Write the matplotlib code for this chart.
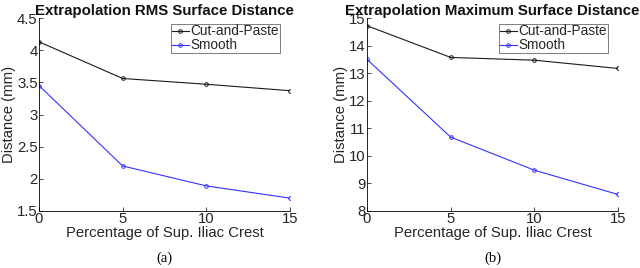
import matplotlib
matplotlib.use("Agg")
import matplotlib.pyplot as plt

x = [0, 5, 10, 15]
rms_cut = [4.13, 3.56, 3.47, 3.37]
rms_smooth = [3.45, 2.20, 1.89, 1.70]
max_cut = [14.72, 13.57, 13.47, 13.17]
max_smooth = [13.50, 10.68, 9.48, 8.60]

titles = ["Extrapolation RMS Surface Distance", "Extrapolation Maximum Surface Distance"]
xlabel = "Percentage of Sup. Iliac Crest"
ylabel = "Distance (mm)"
sublabels = ["(a)", "(b)"]
ylims = [(1.5, 4.5), (8, 15)]
yticks = [[1.5, 2, 2.5, 3, 3.5, 4, 4.5], [8, 9, 10, 11, 12, 13, 14, 15]]
ytlabels = [["1.5", "2", "2.5", "3", "3.5", "4", "4.5"], ["8", "9", "10", "11", "12", "13", "14", "15"]]

plt.rcParams['font.family'] = ['Liberation Sans', 'DejaVu Sans']
fig = plt.figure(figsize=(6.4, 2.68), dpi=100)
W, H = 640, 268
axes_px = [(39, 18, 290, 211), (367, 18, 618, 211)]
data = [(rms_cut, rms_smooth), (max_cut, max_smooth)]
tc = '#262626'

for i in range(2):
    l, t, r, b = axes_px[i]
    ax = fig.add_axes([l / W, 1 - b / H, (r - l) / W, (b - t) / H])
    cut, smooth = data[i]
    ax.plot(x, cut, color='#1a1a1a', lw=0.8, marker='o', ms=2.6, mfc='none', mew=0.7, label='Cut-and-Paste')
    ax.plot(x, smooth, color='#3333ff', lw=0.8, marker='o', ms=2.6, mfc='none', mew=0.7, label='Smooth')
    ax.set_xlim(0, 15)
    ax.set_ylim(*ylims[i])
    ax.set_xticks([0, 5, 10, 15])
    ax.set_yticks(yticks[i])
    ax.set_yticklabels(ytlabels[i])
    ax.spines['top'].set_visible(False)
    ax.spines['right'].set_visible(False)
    ax.spines['left'].set_linewidth(0.6)
    ax.spines['bottom'].set_linewidth(0.6)
    ax.tick_params(direction='in', length=3, width=0.6, labelsize=10.7, pad=1, colors=tc)
    ax.set_title(titles[i], fontsize=10.8, fontweight='bold', pad=1, color='#111111')
    ax.set_xlabel(xlabel, fontsize=10.7, labelpad=0, color=tc)
    ax.set_ylabel(ylabel, fontsize=10.7, labelpad=1, color=tc)
    leg = ax.legend(loc='upper right', bbox_to_anchor=(0.97, 0.985), fontsize=9.8, frameon=True, fancybox=False,
                    edgecolor='#444444', handlelength=1.3, handletextpad=0.1, borderpad=0.05,
                    labelspacing=0.0, borderaxespad=0.2)
    for txt in leg.get_texts():
        txt.set_color(tc)
    leg.get_frame().set_linewidth(0.6)
    fig.text(((l + r) / 2) / W, 1 - 258 / H, sublabels[i], ha='center', va='center',
             fontsize=10.5, family=['Liberation Serif', 'DejaVu Serif'])

fig.savefig("out.png", dpi=100)
